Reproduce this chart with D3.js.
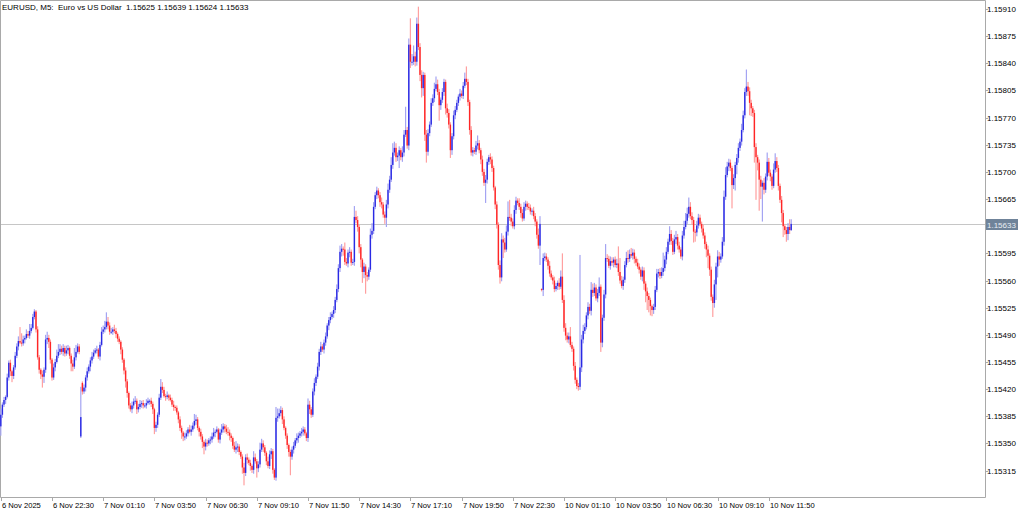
<!DOCTYPE html>
<html>
<head>
<meta charset="utf-8">
<script src="https://cdn.jsdelivr.net/npm/d3@7"></script>
<style>
  body { margin: 0; background: #fff; }
  text { font-family: "Liberation Sans", Arial, sans-serif; fill: #000; }
</style>
</head>
<body>
<div id="chart"></div>
<script>
(function() {

    var width = 1024, height = 511;

    // EURUSD M5, prices stored in points above 1.15000 (1 point = 0.00001)
    var base = 1.15, point = 0.00001;

    // close of every 5 minute bar, 6 Nov 19:50 .. 10 Nov 13:00
    var closes = [
        387, 400, 406, 410, 435, 454, 443, 437, 448, 463,
        475, 482, 480, 479, 484, 486, 491, 489, 495, 499,
        513, 520, 497, 461, 445, 439, 436, 445, 484, 486,
        481, 458, 435, 448, 455, 463, 468, 472, 468, 473,
        466, 470, 473, 463, 453, 449, 461, 468, 475, 468,
        384, 417, 422, 435, 443, 449, 457, 462, 467, 470,
        471, 462, 477, 494, 497, 500, 507, 502, 494, 494,
        497, 495, 491, 485, 481, 471, 458, 444, 430, 415,
        399, 394, 399, 404, 405, 394, 397, 401, 402, 399,
        399, 402, 405, 405, 401, 394, 370, 374, 387, 409,
        423, 419, 411, 410, 412, 409, 406, 400, 397, 396,
        390, 381, 370, 364, 359, 359, 363, 368, 365, 368,
        373, 379, 381, 370, 365, 359, 352, 346, 351, 350,
        354, 355, 359, 364, 365, 368, 355, 364, 368, 372,
        369, 365, 364, 360, 357, 347, 342, 345, 346, 339,
        333, 319, 312, 332, 329, 325, 321, 316, 332, 327,
        318, 323, 342, 350, 345, 338, 327, 321, 336, 340,
        316, 306, 383, 385, 389, 393, 381, 370, 360, 348,
        339, 333, 342, 347, 354, 357, 360, 363, 365, 368,
        363, 357, 400, 394, 387, 417, 428, 436, 449, 468,
        475, 471, 480, 488, 502, 509, 513, 517, 522, 535,
        549, 576, 597, 601, 600, 584, 582, 596, 597, 583,
        584, 642, 638, 629, 603, 587, 571, 578, 567, 565,
        574, 619, 624, 655, 670, 676, 670, 661, 658, 645,
        641, 658, 677, 690, 709, 725, 731, 719, 721, 728,
        719, 725, 748, 754, 734, 864, 842, 842, 849, 842,
        891, 861, 825, 808, 825, 748, 726, 750, 761, 789,
        795, 807, 813, 803, 786, 793, 803, 816, 782, 776,
        761, 728, 746, 773, 780, 789, 797, 801, 798, 811,
        820, 816, 790, 754, 725, 728, 726, 734, 737, 728,
        716, 700, 686, 690, 713, 719, 716, 705, 680, 658,
        632, 580, 564, 613, 609, 600, 623, 642, 641, 636,
        630, 651, 663, 660, 655, 647, 640, 655, 659, 655,
        654, 649, 650, 643, 636, 619, 605, 633, 548, 589,
        591, 587, 579, 569, 564, 560, 549, 553, 557, 552,
        565, 535, 499, 489, 484, 488, 477, 472, 450, 432,
        424, 423, 448, 484, 495, 500, 515, 526, 521, 548,
        544, 551, 537, 544, 552, 480, 512, 542, 589, 588,
        579, 585, 583, 587, 580, 582, 571, 560, 553, 561,
        580, 589, 588, 594, 592, 596, 588, 583, 578, 574,
        565, 573, 556, 546, 540, 535, 527, 522, 526, 548,
        569, 571, 566, 571, 576, 587, 597, 610, 620, 611,
        597, 613, 616, 605, 600, 591, 618, 629, 637, 646,
        655, 643, 638, 623, 622, 631, 641, 633, 627, 618,
        607, 600, 592, 574, 539, 531, 555, 578, 591, 587,
        591, 610, 668, 696, 707, 712, 705, 683, 692, 709,
        718, 731, 739, 754, 773, 803, 810, 804, 789, 782,
        776, 732, 719, 712, 690, 681, 686, 677, 694, 713,
        699, 694, 682, 703, 714, 705, 682, 664, 647, 630,
        625, 620, 629, 625, 633
    ];

    // upper shadow above the body, in points
    var wickUp = [
        8, 3, 4, 2, 5, 3, 4, 2, 3, 5,
        4, 6, 18, 12, 5, 3, 6, 4, 9, 5,
        4, 3, 2, 4, 3, 2, 5, 3, 6, 8,
        4, 3, 2, 5, 4, 8, 10, 6, 4, 5,
        3, 6, 4, 2, 3, 5, 12, 9, 4, 3,
        39, 2, 4, 3, 5, 3, 4, 6, 4, 3,
        5, 2, 4, 6, 5, 8, 12, 6, 4, 5,
        3, 6, 4, 2, 3, 2, 3, 2, 4, 3,
        2, 3, 5, 4, 6, 3, 4, 5, 3, 4,
        3, 5, 4, 2, 4, 3, 2, 4, 3, 5,
        10, 6, 4, 3, 5, 2, 4, 3, 5, 2,
        3, 2, 4, 3, 2, 5, 4, 3, 6, 5,
        4, 9, 6, 3, 2, 4, 3, 2, 5, 4,
        3, 4, 5, 6, 3, 4, 2, 5, 7, 4,
        3, 5, 6, 4, 3, 2, 5, 8, 4, 3,
        2, 3, 6, 4, 5, 3, 4, 2, 8, 5,
        3, 4, 9, 6, 4, 3, 2, 6, 5, 4,
        3, 2, 14, 10, 6, 5, 3, 4, 2, 3,
        2, 3, 4, 5, 3, 6, 4, 3, 5, 4,
        3, 2, 8, 5, 3, 4, 6, 3, 5, 4,
        6, 3, 4, 5, 3, 4, 6, 3, 5, 4,
        6, 5, 8, 6, 3, 9, 5, 4, 6, 3,
        4, 14, 8, 5, 3, 4, 2, 5, 3, 4,
        3, 8, 10, 6, 4, 5, 3, 4, 6, 3,
        4, 6, 8, 5, 10, 12, 8, 6, 4, 5,
        3, 8, 6, 30, 4, 8, 34, 10, 14, 6,
        8, 22, 5, 6, 4, 3, 6, 5, 4, 6,
        5, 8, 10, 6, 4, 3, 5, 4, 3, 6,
        5, 3, 4, 6, 5, 4, 3, 6, 4, 5,
        8, 16, 4, 3, 5, 4, 3, 6, 10, 4,
        3, 5, 4, 6, 4, 3, 5, 4, 3, 2,
        4, 3, 6, 8, 5, 6, 8, 20, 22, 5,
        4, 6, 5, 3, 6, 4, 5, 6, 4, 3,
        5, 4, 3, 5, 4, 3, 8, 10, 1, 6,
        5, 4, 3, 6, 4, 3, 5, 4, 3, 6,
        8, 30, 6, 6, 4, 5, 12, 4, 3, 5,
        3, 4, 145, 6, 8, 5, 4, 6, 4, 10,
        8, 6, 4, 5, 12, 3, 4, 6, 18, 5,
        4, 6, 5, 3, 4, 6, 22, 18, 6, 4,
        5, 8, 10, 6, 8, 5, 4, 3, 5, 4,
        3, 5, 4, 3, 5, 4, 3, 2, 4, 5,
        6, 4, 5, 6, 20, 5, 6, 4, 10, 5,
        4, 6, 8, 4, 5, 3, 6, 8, 10, 8,
        12, 6, 5, 4, 3, 6, 5, 4, 3, 5,
        4, 3, 5, 3, 4, 3, 6, 5, 8, 6,
        4, 6, 8, 10, 6, 5, 4, 3, 5, 4,
        5, 6, 4, 8, 6, 5, 22, 6, 5, 4,
        3, 4, 5, 3, 4, 5, 3, 6, 4, 12,
        5, 4, 3, 8, 10, 5, 4, 3, 5, 4,
        3, 4, 5, 10, 6
    ];

    // lower shadow below the body, in points
    var wickDn = [
        12, 4, 3, 5, 2, 4, 6, 8, 4, 3,
        3, 5, 2, 4, 3, 5, 2, 3, 4, 3,
        2, 3, 4, 3, 5, 6, 14, 8, 4, 6,
        8, 5, 4, 3, 5, 2, 3, 4, 3, 5,
        4, 3, 5, 4, 10, 6, 3, 4, 2, 3,
        2, 4, 3, 5, 4, 3, 6, 4, 3, 2,
        4, 3, 5, 2, 3, 4, 3, 5, 4, 3,
        4, 3, 5, 4, 3, 6, 4, 5, 8, 6,
        4, 3, 5, 4, 3, 6, 4, 3, 5, 4,
        3, 4, 2, 5, 4, 6, 8, 5, 4, 3,
        3, 4, 2, 5, 3, 4, 2, 3, 5, 4,
        3, 5, 4, 8, 6, 5, 3, 4, 2, 5,
        3, 4, 5, 3, 6, 4, 8, 10, 5, 4,
        3, 5, 4, 3, 6, 2, 4, 5, 3, 4,
        5, 3, 4, 6, 5, 4, 3, 5, 6, 4,
        3, 8, 16, 4, 5, 3, 6, 4, 5, 3,
        12, 5, 4, 3, 6, 4, 5, 3, 4, 6,
        5, 3, 4, 5, 3, 4, 6, 3, 4, 5,
        6, 24, 4, 5, 3, 4, 6, 3, 4, 5,
        3, 4, 5, 6, 4, 3, 5, 4, 3, 5,
        4, 3, 5, 4, 3, 6, 4, 3, 5, 4,
        3, 4, 5, 6, 8, 4, 3, 5, 6, 4,
        3, 5, 4, 6, 8, 10, 14, 8, 24, 6,
        4, 3, 5, 4, 3, 5, 4, 6, 5, 4,
        8, 12, 5, 4, 3, 5, 4, 6, 5, 16,
        4, 6, 5, 3, 4, 6, 8, 5, 4, 6,
        5, 4, 8, 12, 10, 8, 14, 5, 4, 3,
        4, 5, 3, 4, 20, 6, 4, 5, 8, 6,
        5, 10, 6, 4, 5, 3, 4, 5, 3, 4,
        3, 4, 5, 6, 4, 5, 3, 4, 5, 4,
        6, 5, 4, 26, 5, 4, 6, 5, 4, 6,
        5, 6, 8, 5, 20, 4, 3, 5, 4, 6,
        3, 4, 5, 3, 4, 6, 4, 3, 5, 4,
        3, 4, 5, 4, 6, 5, 4, 25, 2, 8,
        4, 3, 5, 4, 3, 5, 4, 3, 5, 4,
        3, 4, 5, 6, 4, 5, 3, 4, 6, 5,
        4, 5, 4, 6, 5, 4, 3, 5, 4, 6,
        5, 4, 3, 5, 4, 12, 6, 4, 5, 4,
        3, 5, 4, 6, 3, 4, 5, 4, 3, 5,
        4, 3, 5, 4, 3, 5, 6, 4, 3, 5,
        4, 6, 8, 14, 18, 16, 12, 8, 5, 4,
        3, 5, 4, 3, 5, 4, 6, 3, 4, 5,
        4, 3, 6, 5, 4, 3, 5, 4, 3, 4,
        5, 4, 6, 14, 12, 5, 4, 3, 5, 4,
        6, 10, 16, 8, 5, 18, 6, 20, 14, 8,
        4, 3, 5, 4, 3, 6, 4, 30, 5, 16,
        12, 6, 4, 5, 3, 4, 5, 6, 16, 10,
        5, 20, 55, 10, 40, 16, 45, 6, 4, 5,
        4, 6, 5, 3, 4, 5, 6, 4, 12, 14,
        6, 10, 8, 5, 1
    ];

    // bars whose open is not the previous close (first bar, midnight, weekend)
    var gapBars  = [0, 50, 51, 338];
    var gapOpens = [372, 359, 428, 549];

    var priceTicks = [1.15315, 1.15350, 1.15385, 1.15420, 1.15455, 1.15490,
                      1.15525, 1.15560, 1.15595, 1.15630, 1.15665, 1.15700,
                      1.15735, 1.15770, 1.15805, 1.15840, 1.15875, 1.15910];
    // 1.15630 is hidden behind the bid label in the terminal
    var hiddenTicks = [1.15630];

    var timeLabels = ["6 Nov 2025", "6 Nov 22:30", "7 Nov 01:10", "7 Nov 03:50",
                      "7 Nov 06:30", "7 Nov 09:10", "7 Nov 11:50", "7 Nov 14:30",
                      "7 Nov 17:10", "7 Nov 19:50", "7 Nov 22:30", "10 Nov 01:10",
                      "10 Nov 03:50", "10 Nov 06:30", "10 Nov 09:10", "10 Nov 11:50"];
    var timeBars = [0, 32, 64, 96, 128, 160, 192, 224, 256, 288, 320, 352, 384, 416, 448, 480];

    var title = "EURUSD, M5:  Euro vs US Dollar  1.15625 1.15639 1.15624 1.15633";
    var bid = 1.15633;

    // build OHLC
    var bars = closes.map(function(c, i) {
        var g = gapBars.indexOf(i);
        var o = g >= 0 ? gapOpens[g] : closes[i - 1];
        var top = Math.max(o, c), bot = Math.min(o, c);
        return {
            i: i,
            o: base + o * point,
            c: base + c * point,
            h: base + (top + wickUp[i]) * point,
            l: base + (bot - wickDn[i]) * point
        };
    });

    var plotRight = 985, plotBottom = 497;

    var x = d3.scaleLinear().domain([0, 615]).range([0.8, 984.8]);
    var y = d3.scaleLinear().domain([1.15315, 1.15910]).range([470.6, 9]);

    var svg = d3.select("#chart")
        .append("svg")
        .attr("width", width)
        .attr("height", height);

    // frame
    svg.append("path")
        .attr("d", "M0.5," + plotBottom + ".5V0.5H" + plotRight + ".5V" + plotBottom + ".5H0.5")
        .attr("fill", "none")
        .attr("stroke", "#a9a9a9");

    // bid line
    svg.append("line")
        .attr("x1", 1).attr("x2", plotRight)
        .attr("y1", Math.round(y(bid)) + 0.5).attr("y2", Math.round(y(bid)) + 0.5)
        .attr("stroke", "#c6c6c6");

    var candles = svg.append("g").attr("class", "candles");

    candles.selectAll(".wick")
        .data(bars)
        .enter().append("rect")
        .attr("class", "wick")
        .attr("x", function(d) { return x(d.i) - 0.6; })
        .attr("width", 1.2)
        .attr("y", function(d) { return y(d.h); })
        .attr("height", function(d) { return Math.max(1, y(d.l) - y(d.h)); })
        .attr("fill", function(d) { return d.c >= d.o ? "#a4a4f2" : "#ffa0a0"; });

    candles.selectAll(".body")
        .data(bars)
        .enter().append("rect")
        .attr("class", "body")
        .attr("x", function(d) { return x(d.i) - 0.7; })
        .attr("width", 1.4)
        .attr("y", function(d) { return y(Math.max(d.o, d.c)); })
        .attr("height", function(d) { return Math.max(1, Math.abs(y(d.o) - y(d.c))); })
        .attr("fill", function(d) { return d.c >= d.o ? "#2a2ae4" : "#ff2626"; });

    // price axis
    var yAxis = svg.append("g").attr("class", "y-axis");
    var shown = priceTicks.filter(function(p) { return hiddenTicks.indexOf(p) < 0; });

    yAxis.selectAll("line")
        .data(shown)
        .enter().append("line")
        .attr("x1", plotRight).attr("x2", plotRight + 3)
        .attr("y1", function(d) { return Math.round(y(d)) + 0.5; })
        .attr("y2", function(d) { return Math.round(y(d)) + 0.5; })
        .attr("stroke", "#a9a9a9");

    yAxis.selectAll("text")
        .data(shown)
        .enter().append("text")
        .attr("x", plotRight + 2)
        .attr("y", function(d) { return y(d) + 3; })
        .attr("font-size", "8px")
        .text(function(d) { return d.toFixed(5); });

    // bid label
    var by = Math.round(y(bid));
    svg.append("rect")
        .attr("x", plotRight + 1).attr("y", by - 5)
        .attr("width", 32).attr("height", 11)
        .attr("fill", "#6f8399");
    svg.append("text")
        .attr("x", plotRight + 2).attr("y", by + 3.5)
        .attr("font-size", "8px")
        .style("fill", "#e8eef4")
        .text(bid.toFixed(5));

    // time axis
    var xAxis = svg.append("g").attr("class", "x-axis");

    xAxis.selectAll("line")
        .data(timeBars)
        .enter().append("line")
        .attr("x1", function(d) { return Math.round(x(d)) + 0.5; })
        .attr("x2", function(d) { return Math.round(x(d)) + 0.5; })
        .attr("y1", plotBottom).attr("y2", plotBottom + 4)
        .attr("stroke", "#a9a9a9");

    xAxis.selectAll("text")
        .data(timeBars)
        .enter().append("text")
        .attr("x", function(d) { return Math.round(x(d)) + 1; })
        .attr("y", 508)
        .attr("font-size", "7.6px")
        .attr("font-family", "'Liberation Sans Narrow', 'Liberation Sans', sans-serif")
        .text(function(d, i) { return timeLabels[i]; });

    // title
    svg.append("text")
        .attr("x", 2).attr("y", 10)
        .attr("font-size", "8px")
        .attr("xml:space", "preserve")
        .style("white-space", "pre")
        .text(title);

})();
</script>
</body>
</html>
